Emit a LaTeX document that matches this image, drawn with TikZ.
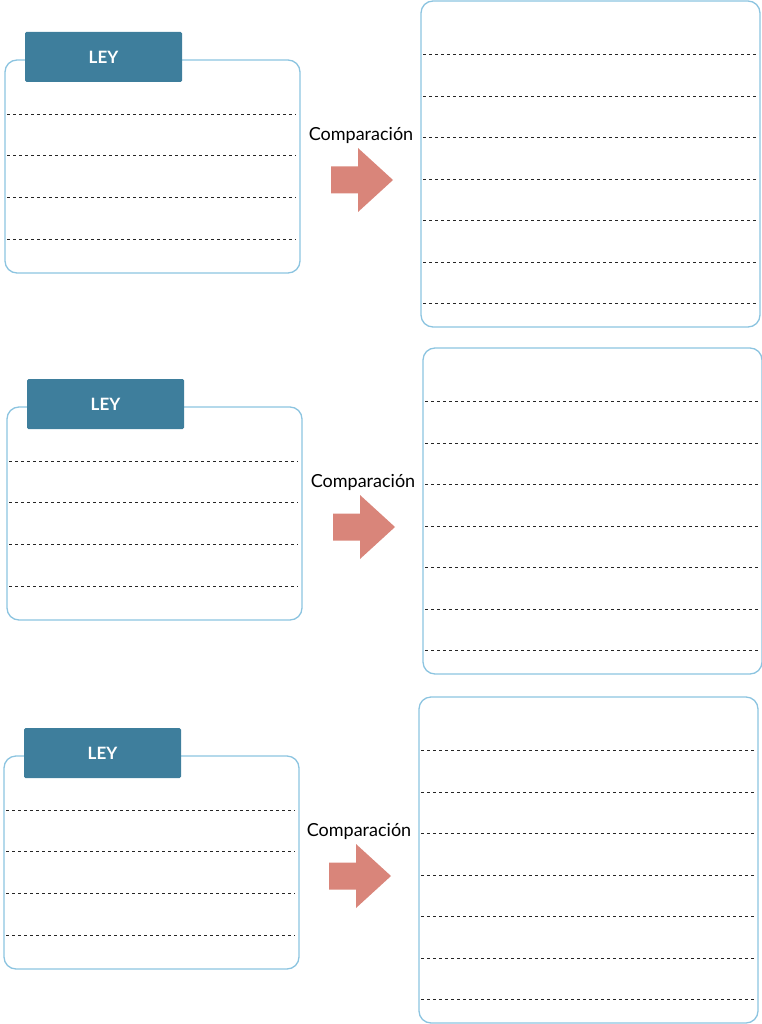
\documentclass[tikz,border=0pt]{standalone}
\usepackage{fontspec}
\setmainfont{Lato}
\usetikzlibrary{calc}
\definecolor{tabblue}{HTML}{3E7E9C}
\definecolor{lineblue}{HTML}{8CC4E0}
\definecolor{arrowred}{HTML}{D9857A}
\begin{document}
\begin{tikzpicture}
      [x=1pt,y=-1pt,
       lawbox/.style={
           rectangle,
           rounded corners=12pt,
           draw=lineblue, line width=1.3pt,
           minimum width=295pt, minimum height=213pt
         },
       notebox/.style={
           rectangle,
           rounded corners=12pt,
           draw=lineblue, line width=1.3pt,
           minimum width=339pt, minimum height=326pt
         },
       lawtab/.style={
           rectangle,
           rounded corners=1.5pt,
           fill=tabblue,
           text=white, font=\bfseries\fontsize{17}{20}\selectfont,
           minimum width=157pt, minimum height=50pt
         },
       compare/.style={fill=arrowred},
       writeline/.style={dashed, semithick, black!85},
       ]
    \useasboundingbox (0,0) rectangle (761,1024);

    % one row per law: left box offset, right box offset, vertical shift
    \foreach \n/\lx/\rx/\dy in {1/0/0/0, 2/2/2/347, 3/-1/-2/696} {
      \node [lawbox] (ley\n) at (152.5+\lx,166.5+\dy) {};
      \node [lawtab] (tab\n) at (103.5+\lx,57+\dy) {LEY};
      \foreach \k in {1,...,4}
        \draw [writeline] ($(ley\n.north west)+(3,13+41.7*\k)$) -- ($(ley\n.north east)+(-5,13+41.7*\k)$);

      \node [notebox] (comp\n) at (590.5+\rx,164+\dy) {};
      \foreach \k in {1,...,7}
        \draw [writeline] ($(comp\n.north west)+(3,12.5+41.5*\k)$) -- ($(comp\n.north east)+(-5,12.5+41.5*\k)$);

      \coordinate (arrow\n) at (331+\rx,180+\dy);
      \fill [compare] (arrow\n) ++(0,-13.5) -- ++(27,0) -- ++(0,-18.5) -- ++(35,32)
        -- ++(-35,32) -- ++(0,-18.5) -- ++(-27,0) -- cycle;
      \node [font=\fontsize{18}{21}\selectfont] (label\n) at (361+\rx,135+\dy) {Comparación};
    }
  \end{tikzpicture}
\end{document}
